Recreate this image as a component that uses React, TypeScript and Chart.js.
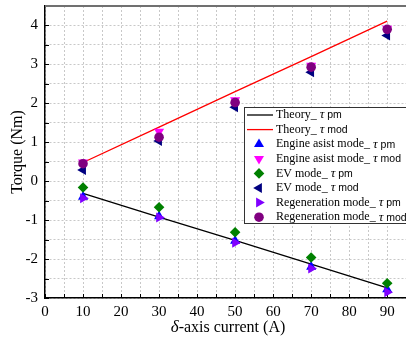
import React, { useEffect, useRef } from "react";
import { Chart, registerables } from "chart.js";

Chart.register(...registerables);

const xValues = [10, 30, 50, 70, 90];
const theoryPm = [-0.31, -0.92, -1.52, -2.13, -2.74];
const theoryMod = [0.48, 1.39, 2.3, 3.2, 4.11];
const engineAssistPm = [-0.4, -0.9, -1.53, -2.2, -2.78];
const engineAssistMod = [0.48, 1.27, 2.08, 2.97, 3.92];
const evPm = [-0.16, -0.67, -1.31, -1.96, -2.62];
const evMod = [0.29, 1.03, 1.9, 2.8, 3.74];
const regenPm = [-0.44, -0.93, -1.58, -2.24, -2.85];
const regenMod = [0.45, 1.13, 2.02, 2.93, 3.9];

const legendPrefix = [
  "Theory_ ",
  "Theory_ ",
  "Engine asist mode_ ",
  "Engine asist mode_ ",
  "EV mode_ ",
  "EV mode_ ",
  "Regeneration mode_ ",
  "Regeneration mode_ ",
];
const legendSuffix = [" pm", " mod", " pm", " mod", " pm", " mod", " pm", " mod"];

const SERIF = "'Liberation Serif', 'DejaVu Serif', serif";
const SANS = "'Liberation Sans', Arial, sans-serif";

function pts(ys: number[]) {
  return xValues.map((x, i) => ({ x, y: ys[i] }));
}

function drawMarker(ctx: CanvasRenderingContext2D, style: string, rot: number, r: number, x: number, y: number, color: string) {
  ctx.save();
  ctx.fillStyle = color;
  ctx.beginPath();
  if (style === "triangle") {
    let rad = (rot * Math.PI) / 180;
    for (let k = 0; k < 3; k++) {
      const px = x + Math.sin(rad) * r;
      const py = y - Math.cos(rad) * r;
      if (k === 0) ctx.moveTo(px, py);
      else ctx.lineTo(px, py);
      rad += (2 * Math.PI) / 3;
    }
    ctx.closePath();
  } else if (style === "rectRot") {
    ctx.moveTo(x, y - r);
    ctx.lineTo(x + r, y);
    ctx.lineTo(x, y + r);
    ctx.lineTo(x - r, y);
    ctx.closePath();
  } else {
    ctx.arc(x, y, r, 0, Math.PI * 2);
  }
  ctx.fill();
  ctx.restore();
}

const framePlugin = {
  id: "frame",
  beforeDatasetsDraw(chart: any) {
    const { ctx, chartArea } = chart;
    const xs = chart.scales.x;
    const ys = chart.scales.y;
    ctx.save();
    ctx.strokeStyle = "#000";
    ctx.lineWidth = 1;
    for (let v = 0; v <= 95; v += 5) {
      const px = Math.round(xs.getPixelForValue(v)) + 0.5;
      ctx.beginPath();
      ctx.moveTo(px, chartArea.bottom);
      ctx.lineTo(px, chartArea.bottom - 4);
      ctx.stroke();
    }
    for (let v = -3; v <= 4.5; v += 0.5) {
      const py = Math.round(ys.getPixelForValue(v)) + 0.5;
      ctx.beginPath();
      ctx.moveTo(chartArea.left, py);
      ctx.lineTo(chartArea.left + 4, py);
      ctx.stroke();
    }
    ctx.strokeStyle = "#707070";
    ctx.lineWidth = 2;
    ctx.beginPath();
    ctx.moveTo(chartArea.left, chartArea.top);
    ctx.lineTo(chartArea.right + 5, chartArea.top);
    ctx.stroke();
    ctx.restore();
  },
  afterDraw(chart: any) {
    const { ctx } = chart;
    ctx.save();
    // x axis title with italic delta
    ctx.textBaseline = "middle";
    ctx.fillStyle = "#000";
    const cx = 228;
    const cy = 328;
    ctx.font = `italic 17px ${SERIF}`;
    const dW = ctx.measureText("\u03b4").width;
    ctx.font = `16px ${SERIF}`;
    const rest = "-axis current (A)";
    const rW = ctx.measureText(rest).width;
    const sx = cx - (dW + rW) / 2;
    ctx.font = `italic 17px ${SERIF}`;
    ctx.textAlign = "left";
    ctx.fillText("\u03b4", sx, cy);
    ctx.font = `16px ${SERIF}`;
    ctx.fillText(rest, sx + dW, cy);

    // legend
    const bx = 244.5;
    const by = 107.5;
    const bw = 180;
    const bh = 116;
    ctx.fillStyle = "#fff";
    ctx.fillRect(bx, by, bw, bh);
    ctx.strokeStyle = "#333";
    ctx.lineWidth = 1;
    ctx.strokeRect(bx, by, bw, bh);
    const datasets = chart.data.datasets;
    for (let i = 0; i < datasets.length; i++) {
      const ds = datasets[i];
      const y = 115 + i * 14.6;
      if (ds.showLine) {
        ctx.strokeStyle = ds.borderColor;
        ctx.lineWidth = 1.3;
        ctx.beginPath();
        ctx.moveTo(247, y);
        ctx.lineTo(273, y);
        ctx.stroke();
      } else {
        drawMarker(ctx, ds.pointStyle, ds.rotation || 0, ds.pointRadius, 259, y, ds.backgroundColor);
      }
      let tx = 276;
      ctx.fillStyle = "#000";
      ctx.textAlign = "left";
      ctx.textBaseline = "middle";
      ctx.font = `12px ${SERIF}`;
      ctx.fillText(legendPrefix[i], tx, y);
      tx += ctx.measureText(legendPrefix[i]).width;
      ctx.font = `italic 13px ${SERIF}`;
      ctx.fillText("\u03c4", tx, y);
      tx += ctx.measureText("\u03c4").width;
      ctx.font = `10.5px ${SANS}`;
      ctx.fillText(legendSuffix[i], tx, y + 0.5);
    }
    ctx.restore();
  },
};

export default function App() {
  const ref = useRef<HTMLCanvasElement | null>(null);
  useEffect(() => {
    const prevMargin = document.body.style.margin;
    document.body.style.margin = "0";
    const canvas = ref.current!;
    const mk = (label: string, ys: number[], color: string, style: string, rot: number, r: number, order: number) => ({
      label,
      data: pts(ys),
      showLine: false,
      pointStyle: style,
      rotation: rot,
      pointRadius: r,
      backgroundColor: color,
      borderColor: color,
      pointBorderWidth: 0,
      borderWidth: 0,
      order,
    });
    const chart = new Chart(canvas, {
      type: "scatter",
      data: {
        datasets: [
          {
            label: "Theory_ τ pm",
            data: pts(theoryPm),
            showLine: true,
            borderColor: "#000000",
            backgroundColor: "#000000",
            borderWidth: 1.3,
            pointRadius: 0,
            order: 10,
          },
          {
            label: "Theory_ τ mod",
            data: pts(theoryMod),
            showLine: true,
            borderColor: "#ff0000",
            backgroundColor: "#ff0000",
            borderWidth: 1.3,
            pointRadius: 0,
            order: 9,
          },
          mk("Engine asist mode_ τ pm", engineAssistPm, "#0000ff", "triangle", 0, 5.8, 8),
          mk("Engine asist mode_ τ mod", engineAssistMod, "#ff00ff", "triangle", 180, 5.8, 7),
          mk("EV mode_ τ pm", evPm, "#008000", "rectRot", 0, 5.3, 6),
          mk("EV mode_ τ mod", evMod, "#000080", "triangle", 270, 5.8, 5),
          mk("Regeneration mode_ τ pm", regenPm, "#8000ff", "triangle", 90, 5.8, 4),
          mk("Regeneration mode_ τ mod", regenMod, "#800080", "circle", 0, 4.8, 3),
        ] as any,
      },
      options: {
        animation: false,
        responsive: false,
        maintainAspectRatio: false,
        events: [],
        layout: { padding: { top: 6, right: 4, left: 0, bottom: 0 } },
        plugins: {
          legend: { display: false },
          tooltip: { enabled: false },
        },
        scales: {
          x: {
            type: "linear",
            min: 0,
            max: 95,
            afterFit: (s: any) => {
              s.height = 45;
              s.paddingLeft = 0;
              s.paddingRight = 0;
            },
            border: { display: true, color: "#000", width: 1.5, dash: [2, 2] },
            grid: {
              color: "#c8c8c8",
              lineWidth: 1,
              drawTicks: false,
            },
            ticks: {
              stepSize: 5,
              autoSkip: false,
              maxRotation: 0,
              padding: 5,
              color: "#000",
              font: { family: SERIF, size: 15 },
              callback: (v: any) => (Number(v) % 10 === 0 ? String(v) : ""),
            },
            title: { display: false },
          },
          y: {
            type: "linear",
            min: -3,
            max: 4.5,
            afterFit: (s: any) => {
              s.width = 45;
              s.paddingTop = 0;
              s.paddingBottom = 0;
            },
            border: { display: true, color: "#000", width: 1.5, dash: [2, 2] },
            grid: {
              color: "#c8c8c8",
              lineWidth: 1,
              drawTicks: false,
            },
            ticks: {
              stepSize: 0.5,
              autoSkip: false,
              padding: 7,
              color: "#000",
              font: { family: SERIF, size: 15 },
              callback: (v: any) => (Number.isInteger(Number(v)) ? String(v) : ""),
            },
            title: {
              display: true,
              text: "Torque (Nm)",
              color: "#000",
              font: { family: SERIF, size: 16 },
              padding: { top: 8, bottom: 0 },
            },
          },
        },
      } as any,
      plugins: [framePlugin],
    });
    return () => {
      chart.destroy();
      document.body.style.margin = prevMargin;
    };
  }, []);
  return (
    <div style={{ position: "fixed", left: 0, top: 0, width: 406, height: 343, overflow: "hidden", background: "#fff" }}>
      <canvas ref={ref} width={412} height={343} style={{ width: 412, height: 343, display: "block" }} />
    </div>
  );
}
